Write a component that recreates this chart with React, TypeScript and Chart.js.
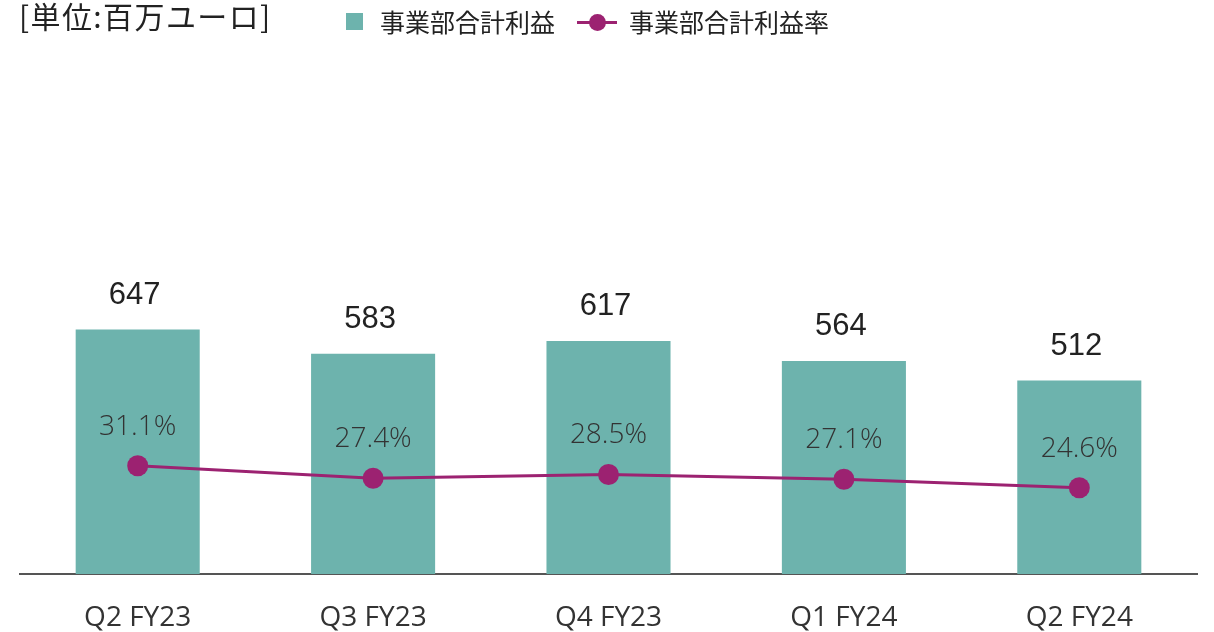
import React, { useEffect, useRef } from 'react';
import { Chart, registerables } from 'chart.js';

Chart.register(...registerables);

const categories = ['Q2 FY23', 'Q3 FY23', 'Q4 FY23', 'Q1 FY24', 'Q2 FY24'];
const profitValues = [647, 583, 617, 564, 512];
const marginValues = [31.1, 27.4, 28.5, 27.1, 24.6];
const profitLabel = '事業部合計利益';
const marginLabel = '事業部合計利益率';
const unitLabel = '[単位:百万ユーロ]';

const TEAL = '#6db3ad';
const MAGENTA = '#9c2271';

const labelPlugin = {
  id: 'valueLabels',
  afterDatasetsDraw(chart: any) {
    const ctx = chart.ctx;
    ctx.save();
    ctx.textAlign = 'center';
    ctx.textBaseline = 'middle';
    chart.data.datasets.forEach((ds: any, di: number) => {
      const meta = chart.getDatasetMeta(di);
      meta.data.forEach((el: any, i: number) => {
        const v = ds.data[i];
        if (ds.type === 'bar') {
          ctx.font = '31px "Liberation Sans", Arial, sans-serif';
          ctx.fillStyle = '#222222';
          ctx.fillText(String(v), el.x - 3, el.y - 34);
        } else {
          ctx.font = '300 28px "Open Sans", sans-serif';
          ctx.fillStyle = '#333333';
          ctx.fillText(v.toFixed(1) + '%', el.x, el.y - 39);
        }
      });
    });
    ctx.restore();
  },
};

function ChartCanvas() {
  const ref = useRef<HTMLCanvasElement | null>(null);
  useEffect(() => {
    if (!ref.current) return;
    const chart = new Chart(ref.current, {
      type: 'bar',
      data: {
        labels: categories,
        datasets: [
          {
            type: 'line',
            label: marginLabel,
            data: marginValues,
            yAxisID: 'y1',
            borderColor: MAGENTA,
            backgroundColor: MAGENTA,
            borderWidth: 3,
            pointRadius: 10.5,
            pointHoverRadius: 10.5,
            pointBorderWidth: 0,
            pointBackgroundColor: MAGENTA,
            tension: 0,
          } as any,
          {
            type: 'bar',
            label: profitLabel,
            data: profitValues,
            yAxisID: 'y',
            backgroundColor: TEAL,
            borderWidth: 0,
            categoryPercentage: 1,
            barPercentage: 0.527,
          } as any,
        ],
      },
      options: {
        responsive: false,
        animation: false,
        devicePixelRatio: 1,
        layout: { padding: { left: 20, right: 17, top: 40, bottom: 0 } },
        plugins: {
          legend: { display: false },
          tooltip: { enabled: false },
          title: { display: false },
        },
        scales: {
          x: {
            grid: { display: false, drawTicks: false },
            border: { display: true, color: '#555555', width: 2 },
            ticks: {
              color: '#333333',
              padding: 27,
              font: { family: '"Open Sans", sans-serif', size: 28, lineHeight: 1.2 },
              maxRotation: 0,
            },
            afterFit: (scale: any) => {
              scale.height = 58;
            },
          },
          y: { display: false, min: 0, max: 1413.5 },
          y1: { display: false, min: -0.89, max: 156.86 },
        },
      },
      plugins: [labelPlugin],
    } as any);
    return () => chart.destroy();
  }, []);
  return <canvas ref={ref} width={1214} height={632} style={{ display: 'block' }} />;
}

export default function App() {
  const cjk = '"Noto Sans CJK JP", "Noto Sans", sans-serif';
  return (
    <div style={{ position: 'absolute', left: 0, top: 0, width: 1214, height: 632, background: '#fff', overflow: 'hidden' }}>
      <ChartCanvas />
      <div
        style={{
          position: 'absolute', left: 19, top: 0, fontFamily: cjk, fontSize: 30, lineHeight: '30px',
          color: '#222', whiteSpace: 'nowrap', letterSpacing: 1.4,
        }}
      >
        {unitLabel}
      </div>
      <div style={{ position: 'absolute', left: 346, top: 13, width: 17, height: 17, background: TEAL }} />
      <div
        style={{
          position: 'absolute', left: 380, top: 9, fontFamily: cjk, fontSize: 25, lineHeight: '25px',
          color: '#222', whiteSpace: 'nowrap', letterSpacing: 0,
        }}
      >
        {profitLabel}
      </div>
      <div style={{ position: 'absolute', left: 577, top: 20.5, width: 40, height: 3, background: MAGENTA }} />
      <div style={{ position: 'absolute', left: 588.5, top: 13.5, width: 17, height: 17, borderRadius: '50%', background: MAGENTA }} />
      <div
        style={{
          position: 'absolute', left: 629, top: 9, fontFamily: cjk, fontSize: 25, lineHeight: '25px',
          color: '#222', whiteSpace: 'nowrap', letterSpacing: 0,
        }}
      >
        {marginLabel}
      </div>
    </div>
  );
}
